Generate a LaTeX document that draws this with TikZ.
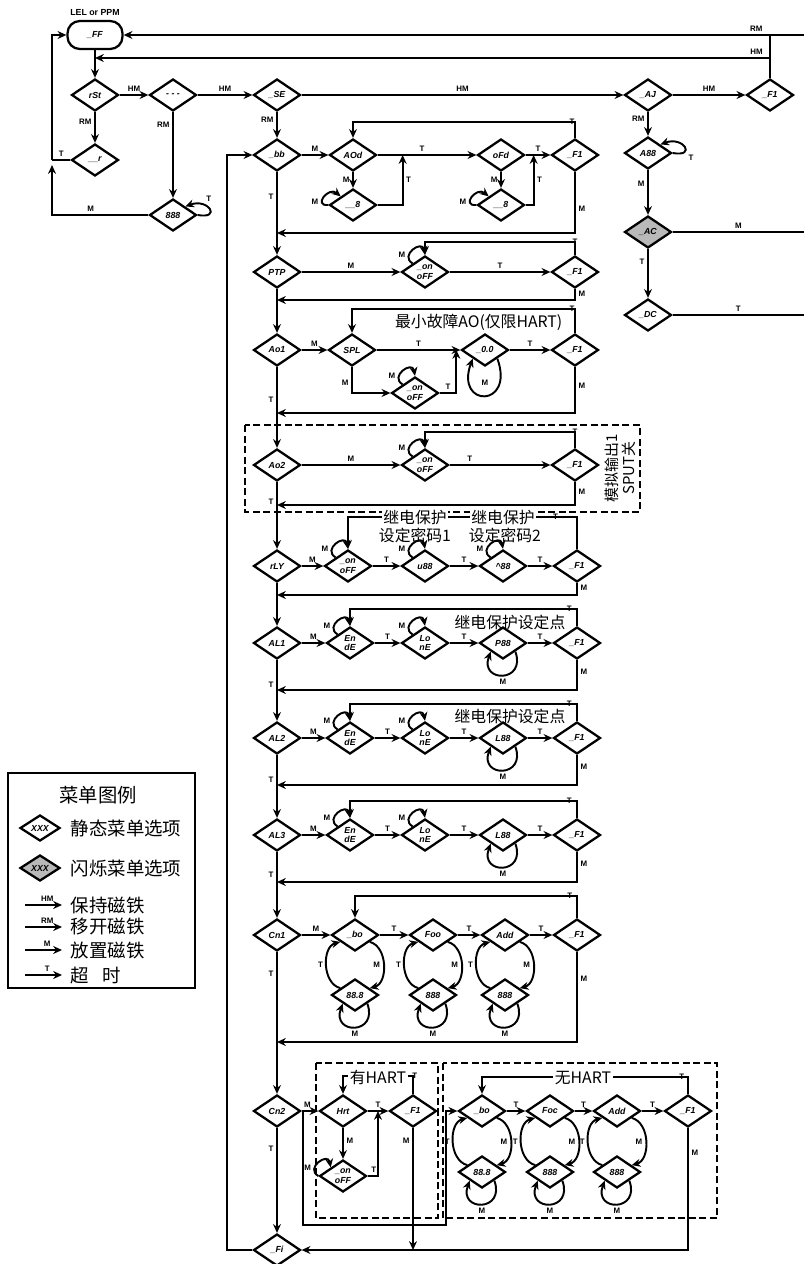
\documentclass[tikz,border=0pt]{standalone}
\usepackage{fontspec}
\setmainfont{Liberation Sans}
\newfontfamily\cjk{Noto Sans CJK SC}
\usetikzlibrary{positioning,arrows.meta,calc,shapes.geometric}
\definecolor{FlashGray}{RGB}{185,185,185}

\begin{document}
\begin{tikzpicture}[x=0.02cm, y=-0.02cm, line width=1.1pt,
  every node/.style={align=center},
  menu/.style={draw, diamond, aspect=1.5, fill=white, line width=1.3pt,
               minimum width=0.94cm, minimum height=0.64cm, inner sep=0pt,
               font=\fontsize{5}{5.5}\selectfont\bfseries\itshape},
  flash/.style={menu, fill=FlashGray},
  lbl/.style={font=\fontsize{4.5}{5}\selectfont\bfseries, inner sep=1.5pt},
  arr/.style={-{Stealth[length=5pt, width=4.5pt]}},
  tloop/.style={arr, out=150, in=100, min distance=9pt},
  lloop/.style={arr, out=185, in=140, min distance=9pt},
  uloop/.style={arr, out=-70, in=-110, min distance=19pt},
  rloop/.style={arr, out=-15, in=15, looseness=1.05},
  bloop/.style={arr, out=165, in=-165, looseness=1.05},
  note/.style={font=\cjk\fontsize{9}{10.5}\selectfont, inner sep=1pt},
  zone/.style={draw, line width=0.9pt, dash pattern=on 4pt off 2pt}]
  \useasboundingbox (0,0) rectangle (804,1264);

  % start of menu
  \node[draw, rounded corners=7pt, line width=1.3pt, minimum width=1.1cm,
        minimum height=0.56cm, font=\fontsize{5}{5.5}\selectfont\bfseries\itshape]
        (ppm) at (95,35) {\_FF};
  \node[lbl, font=\fontsize{5}{6}\selectfont\bfseries] (ppmtag) at (95,13) {LEL or PPM};
  \node[menu] (rst) at (95,95) {rSt};
  \node[menu] (dash) at (173,95) {- - -};
  \node[menu] (se) at (277,95) {\_SE};
  \node[menu] (rr) at (95,160) {\_\_r};
  \node[menu] (bbb) at (173,215) {888};
  \node[menu] (aj) at (648,95) {\_AJ};
  \node[menu] (fs) at (770,95) {\_F1};
  \node[menu] (aaa) at (648,153) {A88};
  \node[flash] (ac) at (648,232) {\_AC};
  \node[menu] (dc) at (648,315) {\_DC};
  \coordinate (lcol) at (52,0);
  \coordinate (redge) at (804,0);
  \coordinate (rmtap) at (804,35);
  \coordinate (hmtap) at (95,58);

  \draw[arr] (rmtap) -- (ppm.east) node[lbl, pos=0.07, above]{RM};
  \draw (fs.north) -- (fs.north |- rmtap);
  \draw[arr] (fs.north |- hmtap) -- (hmtap) node[lbl, pos=0.02, above]{HM};
  \draw[arr] (ppm) -- (rst);
  \draw[arr] (rst) -- (dash) node[lbl, midway, above]{HM};
  \draw[arr] (dash) -- (se) node[lbl, midway, above]{HM};
  \draw[arr] (se) -- (aj) node[lbl, midway, above]{HM};
  \draw[arr] (aj) -- (fs) node[lbl, midway, above]{HM};
  \draw[arr] (rst) -- (rr) node[lbl, pos=0.3, left]{RM};
  \draw[arr] (dash) -- (bbb) node[lbl, pos=0.15, left]{RM};
  \draw[arr] (aj) -- (aaa) node[lbl, pos=0.3, left]{RM};
  \draw[arr] (aaa) -- (ac) node[lbl, pos=0.3, left]{M};
  \draw[arr] (ac) -- (dc) node[lbl, pos=0.25, left]{T};
  \draw (ac.east) -- (ac.east -| redge) node[lbl, midway, above]{M};
  \draw (dc.east) -- (dc.east -| redge) node[lbl, midway, above]{T};
  \draw[arr] (bbb.east) to[out=-10, in=20, min distance=14pt]
        node[lbl, pos=0.7, above right]{T} (bbb.north east);
  \draw[arr] (aaa.east) to[out=-10, in=20, min distance=14pt]
        node[lbl, pos=0.3, below right]{T} (aaa.north east);
  \draw[arr] (bbb.west) -| ($(lcol |- rr)+(0,5)$) node[lbl, pos=0.3, above]{M};
  \draw[arr] (lcol |- rr) |- (ppm.west);
  \draw (rr.west) -- (lcol |- rr) node[lbl, midway, above]{T};

  % main column
  \node[menu] (bb) at (277,155) {\_bb};
  \node[menu] (ptp) at (277,272) {PTP};
  \node[menu] (aoa) at (277,350) {Ao1};
  \node[menu] (aob) at (277,465) {Ao2};
  \node[menu] (rly) at (277,566) {rLY};
  \node[menu] (ala) at (277,643) {AL1};
  \node[menu] (alb) at (277,738) {AL2};
  \node[menu] (alc) at (277,835) {AL3};
  \node[menu] (cna) at (277,935) {Cn1};
  \node[menu] (cnb) at (277,1111) {Cn2};
  \node[menu] (fi) at (277,1250) {\_Fi};
  \draw[arr] (se) -- (bb) node[lbl, pos=0.3, left]{RM};
  \draw[arr] (bb) -- (ptp) node[lbl, pos=0.3, left]{T};
  \draw[arr] (ptp) -- (aoa);
  \draw[arr] (aoa) -- (aob) node[lbl, pos=0.4, left]{T};
  \draw[arr] (aob) -- (rly) node[lbl, pos=0.3, left]{T};
  \draw[arr] (rly) -- (ala);
  \draw[arr] (ala) -- (alb) node[lbl, pos=0.4, left]{T};
  \draw[arr] (alb) -- (alc) node[lbl, pos=0.4, left]{T};
  \draw[arr] (alc) -- (cna) node[lbl, pos=0.35, left]{T};
  \draw[arr] (cna) -- (cnb) node[lbl, pos=0.15, left]{T};
  \draw[arr] (cnb) -- (fi) node[lbl, pos=0.2, left]{T};
  \draw[arr] (fi.west) -| ($(bb.west)+(-25,0)$) -- (bb.west);

  % row _bb
  \node[menu] (aod) at (353,155) {AOd};
  \node[menu] (aoe) at (353,205) {\_\_8};
  \node[menu] (ofd) at (501,155) {oFd};
  \node[menu] (ofe) at (501,205) {\_\_8};
  \node[menu] (fa) at (575,155) {\_F1};
  \coordinate (ra) at (277,233);
  \draw[arr] (bb) -- (aod) node[lbl, midway, above]{M};
  \draw[arr] (aod) -- (ofd) node[lbl, pos=0.45, above]{T};
  \draw[arr] (ofd) -- (fa) node[lbl, midway, above]{T};
  \draw[arr] (aod) -- (aoe) node[lbl, midway, left]{M};
  \draw[arr] (ofd) -- (ofe) node[lbl, midway, left]{M};
  \draw[arr] (aoe.east) -| ($(aod.east)+(25,0)$) node[lbl, pos=0.75, right]{T};
  \draw[arr] (ofe.east) -| ($(ofd.east)+(8,0)$) node[lbl, pos=0.75, right]{T};
  \draw[lloop] (aoe.west) to node[lbl, pos=0.3, left]{M} (aoe.north west);
  \draw[lloop] (ofe.west) to node[lbl, pos=0.3, left]{M} (ofe.north west);
  \draw[arr] (fa.north) -- ++(0,-16) -| (aod.north) node[lbl, pos=0.02, right]{T};
  \draw[arr] (fa.south) |- (ra) node[lbl, pos=0.3, right]{M};

  % row PTP
  \node[menu] (ona) at (425,272) {\_on\\oFF};
  \node[menu] (fb) at (575,272) {\_F1};
  \coordinate (rb) at (277,300);
  \draw[arr] (ptp) -- (ona) node[lbl, midway, above]{M};
  \draw[arr] (ona) -- (fb) node[lbl, midway, above]{T};
  \draw[tloop] (ona.north west) to node[lbl, pos=0.3, left]{M} (ona.north);
  \draw[arr] (fb.north) -- ++(0,-13) -| (ona.north) node[lbl, pos=0.02, right]{T};
  \draw[arr] (fb.south) |- (rb) node[lbl, pos=0.2, right]{M};

  % row Ao1
  \node[menu] (spl) at (352,350) {SPL};
  \node[menu] (zz) at (485,350) {\_0.0};
  \node[menu] (onb) at (415,393) {\_on\\oFF};
  \node[menu] (fc) at (575,350) {\_F1};
  \coordinate (rc) at (277,413);
  \draw[arr] (aoa) -- (spl) node[lbl, midway, above]{M};
  \draw[arr] (spl) -- (zz) node[lbl, midway, above]{T};
  \draw[arr] (zz) -- (fc) node[lbl, midway, above]{T};
  \draw[arr] (spl.south) |- (onb.west) node[lbl, pos=0.3, left]{M};
  \draw[arr] (onb.east) -| ($(zz.west)+(-4,0)$) node[lbl, pos=0.25, above]{T};
  \draw[tloop] (onb.north west) to node[lbl, pos=0.3, left]{M} (onb.north);
  \draw[uloop, min distance=30pt] (zz.south east) to node[lbl, pos=0.5, above=4pt]{M} (zz.south west);
  \draw[arr] (fc.north) -- ++(0,-24) -| (spl.north) node[lbl, pos=0.02, right]{T};
  \draw[arr] (fc.south) |- (rc) node[lbl, pos=0.2, right]{M};
  \node[note, anchor=east] (minao) at (565,322) {最小故障AO(仅限HART)};

  % row Ao2
  \draw[zone] (245,425) rectangle (640,512);
  \node[menu] (onc) at (425,465) {\_on\\oFF};
  \node[menu] (fd) at (575,465) {\_F1};
  \coordinate (rd) at (277,505);
  \draw[arr] (aob) -- (onc) node[lbl, midway, above]{M};
  \draw[arr] (onc) -- (fd) node[lbl, pos=0.2, above]{T};
  \draw[tloop] (onc.north west) to node[lbl, pos=0.3, left]{M} (onc.north);
  \draw[arr] (fd.north) -- ++(0,-16) -| (onc.north) node[lbl, pos=0.02, right]{T};
  \draw[arr] (fd.south) |- (rd) node[lbl, pos=0.2, right]{M};
  \node[note, rotate=90, font=\cjk\fontsize{8.5}{9.5}\selectfont] (aotag) at (620,468) {模拟输出1\\SPUT关};

  % row rLY
  \node[menu] (ond) at (348,566) {\_on\\oFF};
  \node[menu] (upp) at (425,566) {u88};
  \node[menu] (hpp) at (503,566) {\^{}88};
  \node[menu] (fe) at (577,566) {\_F1};
  \coordinate (re) at (277,595);
  \draw[arr] (rly) -- (ond) node[lbl, midway, above]{M};
  \draw[arr] (ond) -- (upp) node[lbl, midway, above]{T};
  \draw[arr] (upp) -- (hpp) node[lbl, midway, above]{T};
  \draw[arr] (hpp) -- (fe) node[lbl, midway, above]{T};
  \draw[tloop] (ond.north west) to node[lbl, pos=0.3, left]{M} (ond.north);
  \draw[tloop] (upp.north west) to node[lbl, pos=0.3, left]{M} (upp.north);
  \draw[tloop] (hpp.north west) to node[lbl, pos=0.3, left]{M} (hpp.north);
  \draw[arr] (fe.north) -- ++(0,-32) -| (ond.north) node[lbl, pos=0.06, right]{T};
  \draw[arr] (fe.south) |- (re) node[lbl, pos=0.2, right]{M};
  \node[note, fill=white] (pwa) at (415,517) {继电保护};
  \node[note, fill=white] (pwb) at (503,517) {继电保护};
  \node[note] (pwc) at (415,535) {设定密码1};
  \node[note] (pwd) at (505,535) {设定密码2};

  % row AL1
  \node[menu] (ena) at (350,643) {En\\dE};
  \node[menu] (loa) at (425,643) {Lo\\nE};
  \node[menu] (pa) at (503,643) {P88};
  \node[menu] (fg) at (577,643) {\_F1};
  \coordinate (rf) at (277,690);
  \draw[arr] (ala) -- (ena) node[lbl, midway, above]{M};
  \draw[arr] (ena) -- (loa) node[lbl, midway, above]{T};
  \draw[arr] (loa) -- (pa) node[lbl, midway, above]{T};
  \draw[arr] (pa) -- (fg) node[lbl, midway, above]{T};
  \draw[tloop] (ena.north west) to node[lbl, pos=0.3, left]{M} (ena.north);
  \draw[tloop] (loa.north west) to node[lbl, pos=0.3, left]{M} (loa.north);
  \draw[uloop] (pa.south east) to node[lbl, pos=0.5, below]{M} (pa.south west);
  \draw[arr] (fg.north) -- ++(0,-17) -| (ena.north) node[lbl, pos=0.03, right]{T};
  \draw[arr] (fg.south) |- (rf) node[lbl, pos=0.2, right]{M};
  \node[note] (spa) at (510,622) {继电保护设定点};

  % row AL2
  \node[menu] (enb) at (350,738) {En\\dE};
  \node[menu] (lob) at (425,738) {Lo\\nE};
  \node[menu] (pb) at (503,738) {L88};
  \node[menu] (fh) at (577,738) {\_F1};
  \coordinate (rg) at (277,785);
  \draw[arr] (alb) -- (enb) node[lbl, midway, above]{M};
  \draw[arr] (enb) -- (lob) node[lbl, midway, above]{T};
  \draw[arr] (lob) -- (pb) node[lbl, midway, above]{T};
  \draw[arr] (pb) -- (fh) node[lbl, midway, above]{T};
  \draw[tloop] (enb.north west) to node[lbl, pos=0.3, left]{M} (enb.north);
  \draw[tloop] (lob.north west) to node[lbl, pos=0.3, left]{M} (lob.north);
  \draw[uloop] (pb.south east) to node[lbl, pos=0.5, below]{M} (pb.south west);
  \draw[arr] (fh.north) -- ++(0,-17) -| (enb.north) node[lbl, pos=0.03, right]{T};
  \draw[arr] (fh.south) |- (rg) node[lbl, pos=0.2, right]{M};
  \node[note] (spb) at (510,716) {继电保护设定点};

  % row AL3
  \node[menu] (enc) at (350,835) {En\\dE};
  \node[menu] (loc) at (425,835) {Lo\\nE};
  \node[menu] (pc) at (503,835) {L88};
  \node[menu] (fj) at (577,835) {\_F1};
  \coordinate (rh) at (277,882);
  \draw[arr] (alc) -- (enc) node[lbl, midway, above]{M};
  \draw[arr] (enc) -- (loc) node[lbl, midway, above]{T};
  \draw[arr] (loc) -- (pc) node[lbl, midway, above]{T};
  \draw[arr] (pc) -- (fj) node[lbl, midway, above]{T};
  \draw[tloop] (enc.north west) to node[lbl, pos=0.3, left]{M} (enc.north);
  \draw[tloop] (loc.north west) to node[lbl, pos=0.3, left]{M} (loc.north);
  \draw[uloop] (pc.south east) to node[lbl, pos=0.5, below]{M} (pc.south west);
  \draw[arr] (fj.north) -- ++(0,-17) -| (enc.north) node[lbl, pos=0.03, right]{T};
  \draw[arr] (fj.south) |- (rh) node[lbl, pos=0.2, right]{M};

  % row Cn1
  \node[menu] (boa) at (355,935) {\_bo};
  \node[menu] (foa) at (433,935) {Foo};
  \node[menu] (ada) at (505,935) {Add};
  \node[menu] (fk) at (577,935) {\_F1};
  \node[menu] (boas) at (355,995) {88.8};
  \node[menu] (foas) at (433,995) {888};
  \node[menu] (adas) at (505,995) {888};
  \coordinate (rk) at (277,1042);
  \draw[arr] (cna) -- (boa) node[lbl, midway, above]{M};
  \draw[arr] (boa) -- (foa) node[lbl, midway, above]{T};
  \draw[arr] (foa) -- (ada) node[lbl, midway, above]{T};
  \draw[arr] (ada) -- (fk) node[lbl, midway, above]{T};
  \draw[rloop] (boa.-25) to node[lbl, pos=0.5, left]{M} (boas.25);
  \draw[bloop] (boas.155) to node[lbl, pos=0.5, left]{T} (boa.-155);
  \draw[rloop] (foa.-25) to node[lbl, pos=0.5, left]{M} (foas.25);
  \draw[bloop] (foas.155) to node[lbl, pos=0.5, left]{T} (foa.-155);
  \draw[rloop] (ada.-25) to node[lbl, pos=0.5, left]{M} (adas.25);
  \draw[bloop] (adas.155) to node[lbl, pos=0.5, left]{T} (ada.-155);
  \draw[uloop] (boas.south east) to node[lbl, pos=0.5, below]{M} (boas.south west);
  \draw[uloop] (foas.south east) to node[lbl, pos=0.5, below]{M} (foas.south west);
  \draw[uloop] (adas.south east) to node[lbl, pos=0.5, below]{M} (adas.south west);
  \draw[arr] (fk.north) -- ++(0,-22) -| (boa.north) node[lbl, pos=0.03, right]{T};
  \draw[arr] (fk.south) |- (rk) node[lbl, pos=0.15, right]{M};

  % row Cn2, with HART
  \draw[zone] (316,1063) rectangle (438,1218);
  \draw[zone] (443,1063) rectangle (717,1218);
  \node[menu] (hrt) at (343,1111) {Hrt};
  \node[menu] (one) at (343,1176) {\_on\\oFF};
  \node[menu] (fm) at (413,1111) {\_F1};
  \coordinate (cbr) at (303,1111);
  \draw[arr] (cnb) -- (hrt) node[lbl, pos=0.35, above]{M};
  \draw[arr] (hrt) -- (fm) node[lbl, midway, above]{T};
  \draw[arr] (hrt) -- (one) node[lbl, pos=0.4, right]{M};
  \draw[tloop] (one.west) to node[lbl, pos=0.3, left]{M} (one.north west);
  \draw[arr] (one.east) -| ($(hrt.east)!0.5!(fm.west)$) node[lbl, pos=0.3, above]{T};
  \draw[arr] (fm.north) -- ++(0,-18) -| (hrt.north) node[lbl, pos=0.03, right]{T};
  \draw[arr] (fm.south) -- (fm.south |- fi) node[lbl, pos=0.1, left]{M};
  \node[note, fill=white] (hart) at (378,1077) {有HART};

  % row Cn2, no HART
  \node[menu] (bob) at (482,1111) {\_bo};
  \node[menu] (fob) at (550,1111) {Foc};
  \node[menu] (adb) at (617,1111) {Add};
  \node[menu] (fn) at (688,1111) {\_F1};
  \node[menu] (bobs) at (482,1172) {88.8};
  \node[menu] (fobs) at (550,1172) {888};
  \node[menu] (adbs) at (617,1172) {888};
  \draw[arr] (cbr) -- ++(0,114) -| ($(bob.west)+(-11,0)$) -- (bob.west);
  \draw[arr] (bob) -- (fob) node[lbl, midway, above]{T};
  \draw[arr] (fob) -- (adb) node[lbl, midway, above]{T};
  \draw[arr] (adb) -- (fn) node[lbl, midway, above]{T};
  \draw[rloop] (bob.-25) to node[lbl, pos=0.5, left]{M} (bobs.25);
  \draw[bloop] (bobs.155) to node[lbl, pos=0.5, left]{T} (bob.-155);
  \draw[rloop] (fob.-25) to node[lbl, pos=0.5, left]{M} (fobs.25);
  \draw[bloop] (fobs.155) to node[lbl, pos=0.5, left]{T} (fob.-155);
  \draw[rloop] (adb.-25) to node[lbl, pos=0.5, left]{M} (adbs.25);
  \draw[bloop] (adbs.155) to node[lbl, pos=0.5, left]{T} (adb.-155);
  \draw[uloop] (bobs.south east) to node[lbl, pos=0.5, below]{M} (bobs.south west);
  \draw[uloop] (fobs.south east) to node[lbl, pos=0.5, below]{M} (fobs.south west);
  \draw[uloop] (adbs.south east) to node[lbl, pos=0.5, below]{M} (adbs.south west);
  \draw[arr] (fn.north) -- ++(0,-17) -| (bob.north) node[lbl, pos=0.03, right]{T};
  \draw[arr] (fn.south) |- (fi.east) node[lbl, pos=0.1, right]{M};
  \node[note, fill=white] (nohart) at (583,1078) {无HART};

  % legend
  \node[draw, line width=1.2pt, inner sep=0pt, minimum width=3.74cm,
        minimum height=4.3cm] (legend) at (101.5,880.5) {};
  \node[note, font=\cjk\fontsize{11}{13}\selectfont] (lgtitle) at (98,795) {菜单图例};
  \node[menu, minimum width=0.8cm, minimum height=0.52cm] (lgstat) at (40,828) {XXX};
  \node[flash, minimum width=0.8cm, minimum height=0.52cm] (lgflash) at (40,868) {XXX};
  \node[note, anchor=west, font=\cjk\fontsize{10.5}{12}\selectfont] (lgstattxt) at (68,828) {静态菜单选项};
  \node[note, anchor=west, font=\cjk\fontsize{10.5}{12}\selectfont] (lgflashtxt) at (68,868) {闪烁菜单选项};
  \coordinate (lga) at (25,905);
  \coordinate (lgb) at (25,927);
  \coordinate (lgc) at (25,950);
  \coordinate (lgd) at (25,975);
  \draw[arr] (lga) -- ++(37,0) node[lbl, pos=0.6, above]{HM};
  \draw[arr] (lgb) -- ++(37,0) node[lbl, pos=0.6, above]{RM};
  \draw[arr] (lgc) -- ++(37,0) node[lbl, pos=0.6, above]{M};
  \draw[arr] (lgd) -- ++(37,0) node[lbl, pos=0.6, above]{T};
  \node[note, anchor=west, font=\cjk\fontsize{10.5}{12}\selectfont] (lgatxt) at (68,905) {保持磁铁};
  \node[note, anchor=west, font=\cjk\fontsize{10.5}{12}\selectfont] (lgbtxt) at (68,927) {移开磁铁};
  \node[note, anchor=west, font=\cjk\fontsize{10.5}{12}\selectfont] (lgctxt) at (68,950) {放置磁铁};
  \node[note, anchor=west, font=\cjk\fontsize{10.5}{12}\selectfont] (lgdtxt) at (68,975) {超\hspace{0.7em}时};
\end{tikzpicture}
\end{document}
